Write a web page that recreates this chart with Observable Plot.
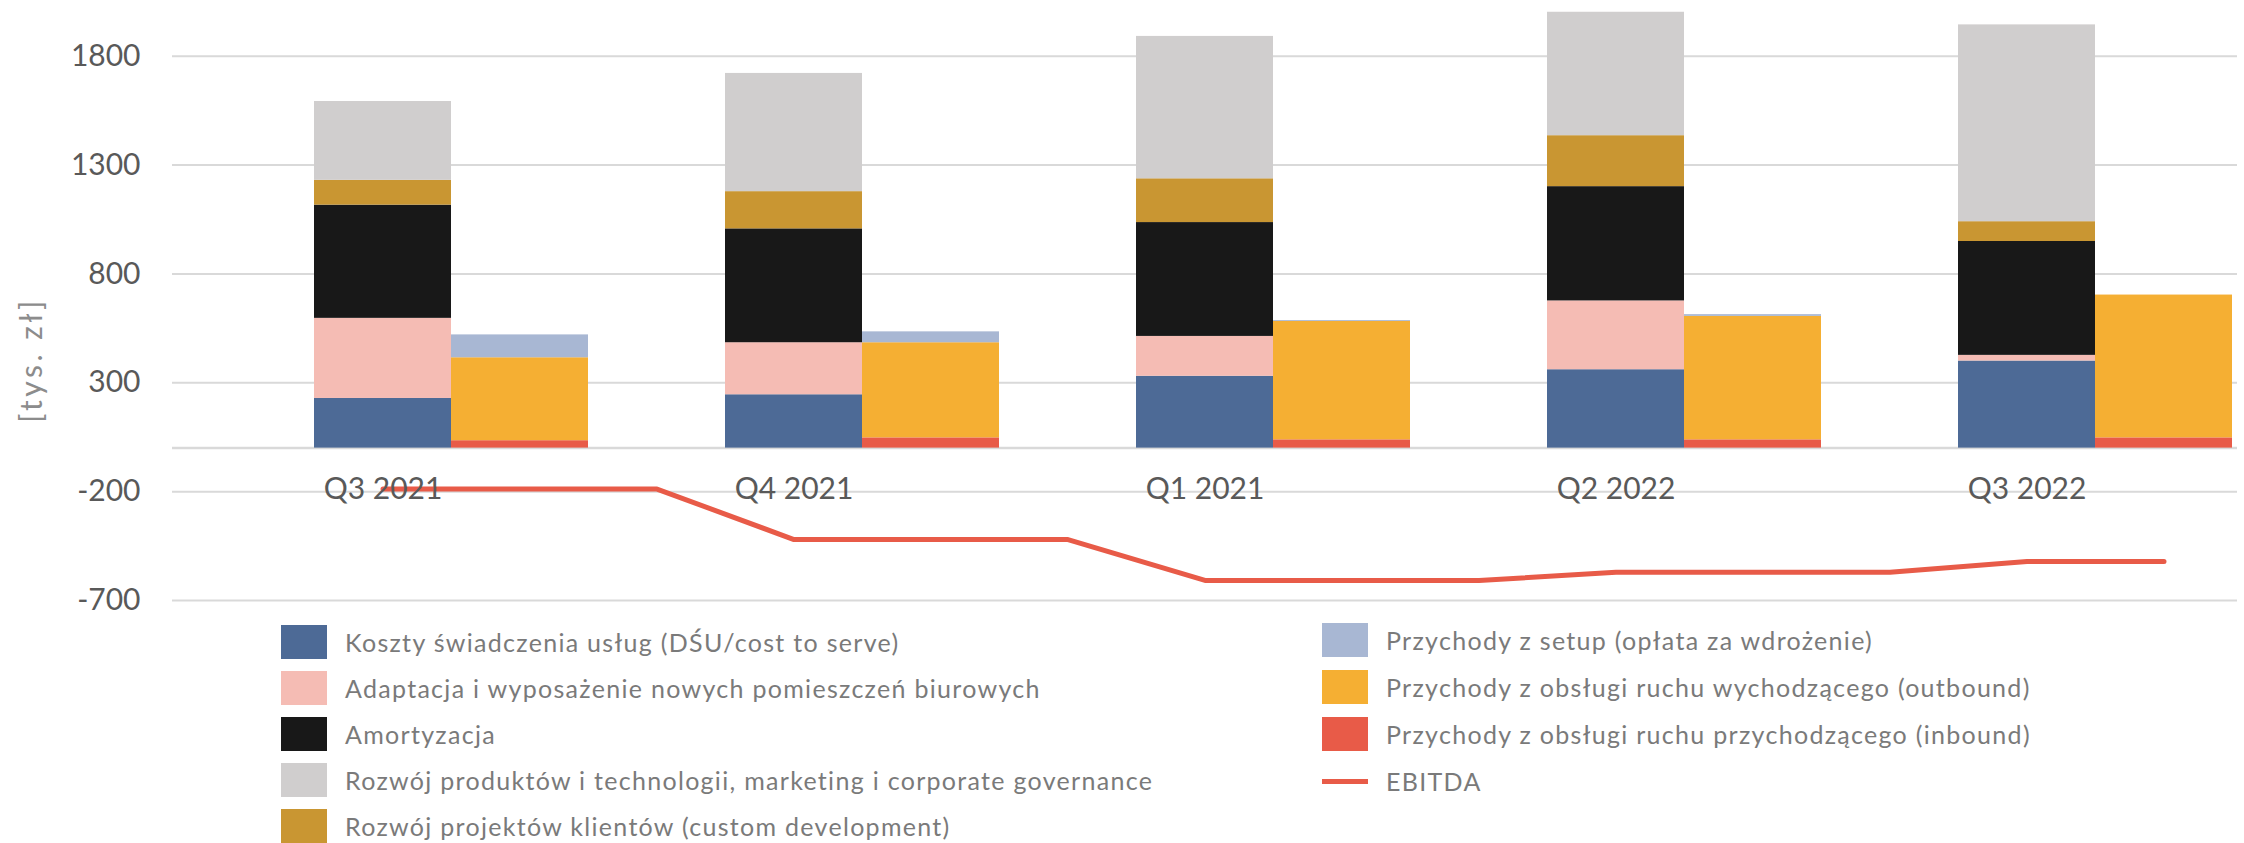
<!DOCTYPE html>
<html>
<head>
<meta charset="utf-8">
<script src="https://cdn.jsdelivr.net/npm/d3@7"></script>
<script src="https://cdn.jsdelivr.net/npm/@observablehq/plot@0.6"></script>
<style>
  html, body { margin: 0; padding: 0; background: #fff; }
  #wrap { position: relative; width: 2244px; height: 843px; overflow: hidden; font-family: Lato, "Noto Sans", sans-serif; }
  .leg { position: absolute; display: flex; align-items: center; height: 34px; font-size: 25px; letter-spacing: 1.3px; color: #7a7a7a; white-space: nowrap; }
  .sw { width: 46px; height: 34px; margin-right: 18px; flex: none; }
  .ln { width: 46px; height: 5px; margin-right: 18px; flex: none; }
  #ytitle { position: absolute; left: 30px; top: 360px; transform: translate(-50%, -50%) rotate(-90deg); font-size: 30px; letter-spacing: 3.5px; color: #8c8c8c; white-space: nowrap; }
</style>
</head>
<body>
<div id="wrap"><div id="chart"></div><div id="ytitle">[tys. zł]</div></div>
<script>
// ---- data ----
const quarters = ["Q3 2021", "Q4 2021", "Q1 2021", "Q2 2022", "Q3 2022"];

const costSeries = [
  "Koszty świadczenia usług (DŚU/cost to serve)",
  "Adaptacja i wyposażenie nowych pomieszczeń biurowych",
  "Amortyzacja",
  "Rozwój projektów klientów (custom development)",
  "Rozwój produktów i technologii, marketing i corporate governance"
];
const costColors = ["#4d6a96", "#f5bcb4", "#181818", "#c99632", "#d0cece"];

const costToServe   = [228, 245, 330, 360, 400];
const officeFitout  = [368, 239, 183, 316, 26];
const depreciation  = [520, 523, 523, 525, 523];
const customDev     = [114, 171, 201, 234, 91];
const productDev    = [362, 543, 654, 567, 904];

const revSeries = [
  "Przychody z obsługi ruchu przychodzącego (inbound)",
  "Przychody z obsługi ruchu wychodzącego (outbound)",
  "Przychody z setup (opłata za wdrożenie)"
];
const revColors = ["#e85b48", "#f5af33", "#a8b7d3"];

const inbound  = [34, 47, 38, 38, 47];
const outbound = [381, 437, 544, 567, 656];
const setup    = [105, 50, 4, 8, 0];

const ebitda = [-188, -420, -608, -570, -521];

const yTicks = [-700, -200, 300, 800, 1300, 1800];

// ---- build tables ----
const slot = (i, kind) => quarters[i] + "|" + kind;
const slots = quarters.flatMap((q, i) => [slot(i, "gap"), slot(i, "cost"), slot(i, "rev")]);

const costValues = [costToServe, officeFitout, depreciation, customDev, productDev];
const revValues = [inbound, outbound, setup];

const bars = [];
quarters.forEach((q, i) => {
  costValues.forEach((arr, s) => bars.push({slot: slot(i, "cost"), series: costSeries[s], value: arr[i]}));
  revValues.forEach((arr, s) => bars.push({slot: slot(i, "rev"), series: revSeries[s], value: arr[i]}));
});

const linePts = [];
quarters.forEach((q, i) => {
  linePts.push({slot: slot(i, "cost"), value: ebitda[i]});
  linePts.push({slot: i < quarters.length - 1 ? slot(i + 1, "gap") : slot(i, "rev"), value: ebitda[i]});
});

const labels = quarters.map((q, i) => ({slot: slot(i, "cost"), base: 0, text: q}));

const chart = Plot.plot({
  width: 2244,
  height: 615,
  marginLeft: 172,
  marginRight: 7,
  marginTop: 0,
  marginBottom: 15,
  style: {fontFamily: "Lato, 'Noto Sans', sans-serif", color: "#595959", background: "transparent"},
  x: {type: "band", domain: slots, padding: 0, axis: null},
  y: {domain: [-700, 2056], axis: null},
  color: {domain: [...costSeries, ...revSeries], range: [...costColors, ...revColors]},
  marks: [
    Plot.gridY(yTicks, {stroke: "#d9d9d9", strokeOpacity: 1, strokeWidth: 2}),
    Plot.ruleY([0], {stroke: "#d9d9d9", strokeWidth: 2.5}),
    Plot.barY(bars, {x: "slot", y: "value", fill: "series", inset: 0}),
    Plot.line(linePts, {x: "slot", y: "value", stroke: "#e85b48", strokeWidth: 5, strokeLinecap: "round", strokeLinejoin: "round"}),
    Plot.text(labels, {x: "slot", y: "base", text: "text", dy: 41, fontSize: 30, fill: "#595959"}),
    Plot.axisY(yTicks, {tickSize: 0, tickPadding: 32, fontSize: 30, label: null, fill: "#595959", tickFormat: d => String(d)})
  ]
});
document.getElementById("chart").appendChild(chart);

// ---- legend ----
const wrap = document.getElementById("wrap");
const leftItems = [
  [costSeries[0], costColors[0]],
  [costSeries[1], costColors[1]],
  [costSeries[2], costColors[2]],
  [costSeries[4], costColors[4]],
  [costSeries[3], costColors[3]]
];
const rightItems = [
  [revSeries[2], revColors[2], "sw"],
  [revSeries[1], revColors[1], "sw"],
  [revSeries[0], revColors[0], "sw"],
  ["EBITDA", "#e85b48", "ln"]
];
function addItem(x, top, name, color, kind) {
  const d = document.createElement("div");
  d.className = "leg";
  d.style.left = x + "px";
  d.style.top = top + "px";
  const s = document.createElement("span");
  s.className = kind || "sw";
  s.style.background = color;
  d.appendChild(s);
  const t = document.createElement("span");
  t.textContent = name;
  d.appendChild(t);
  wrap.appendChild(d);
}
leftItems.forEach(([n, c], k) => addItem(281, 625 + k * 46, n, c, "sw"));
rightItems.forEach(([n, c, kind], k) => addItem(1322, 623 + k * 47, n, c, kind));
</script>
</body>
</html>
